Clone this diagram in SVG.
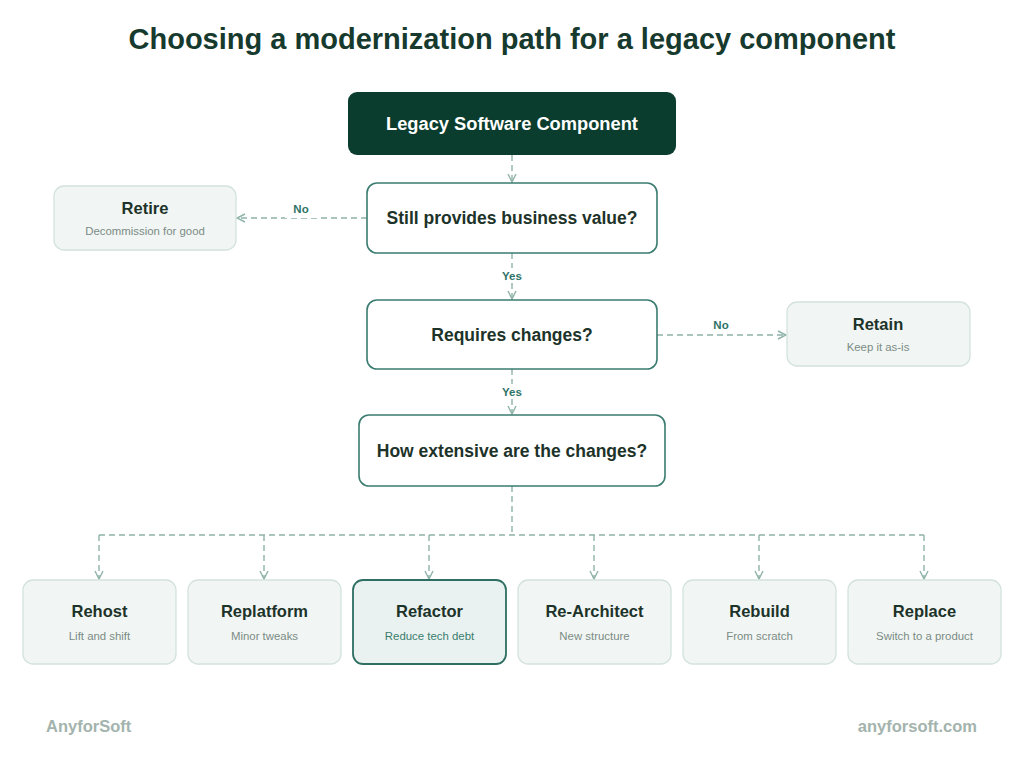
<svg xmlns="http://www.w3.org/2000/svg" width="1024" height="764" viewBox="0 0 1024 764">
<style>
text{font-family:"Liberation Sans",Arial,sans-serif}
.title{font-size:29px;font-weight:bold;fill:#173a2e}
.q{fill:#ffffff;stroke:#3b7c70;stroke-width:1.6}
.qt{font-size:17.5px;font-weight:bold;fill:#1d3329;text-anchor:middle}
.leaf{fill:#f1f6f4;stroke:#d3e2dc;stroke-width:1.3}
.lt{font-size:16.5px;font-weight:bold;fill:#1d3329;text-anchor:middle}
.ls{font-size:11.4px;fill:#7b8b85;text-anchor:middle}
.edge{fill:none;stroke:#8fb3a9;stroke-width:1.4;stroke-dasharray:6 4}
.lbl{font-size:11.5px;font-weight:bold;fill:#2f7466;text-anchor:middle}
.foot{font-size:16.5px;font-weight:bold;fill:#a3b3ad}
</style>
<defs>
<marker id="arr" viewBox="0 0 10 10" refX="9" refY="5" markerWidth="10" markerHeight="10" markerUnits="userSpaceOnUse" orient="auto">
<path d="M1,1 L9,5 L1,9" fill="none" stroke="#8fb3a9" stroke-width="1.4"/>
</marker>
</defs>
<rect width="1024" height="764" fill="#ffffff"/>
<text class="title" x="512" y="49" text-anchor="middle">Choosing a modernization path for a legacy component</text>

<g id="connectors">
<path class="edge" d="M512,155 V182" marker-end="url(#arr)"/>
<path class="edge" d="M367,218 H237" marker-end="url(#arr)"/>
<path class="edge" d="M512,253 V299" marker-end="url(#arr)"/>
<path class="edge" d="M657,335 H786" marker-end="url(#arr)"/>
<path class="edge" d="M512,369 V414" marker-end="url(#arr)"/>
<path class="edge" d="M512,486 V535"/>
<path class="edge" d="M99,535 H924"/>
<path class="edge" d="M99,535 V579" marker-end="url(#arr)"/>
<path class="edge" d="M264,535 V579" marker-end="url(#arr)"/>
<path class="edge" d="M429,535 V579" marker-end="url(#arr)"/>
<path class="edge" d="M594,535 V579" marker-end="url(#arr)"/>
<path class="edge" d="M759,535 V579" marker-end="url(#arr)"/>
<path class="edge" d="M924,535 V579" marker-end="url(#arr)"/>
<rect x="285" y="202" width="32" height="16" fill="#ffffff"/>
<text class="lbl" x="301" y="213">No</text>
<rect x="496" y="268" width="32" height="15" fill="#ffffff"/>
<text class="lbl" x="512" y="280">Yes</text>
<rect x="705" y="318" width="32" height="16" fill="#ffffff"/>
<text class="lbl" x="721" y="329">No</text>
<rect x="496" y="384" width="32" height="15" fill="#ffffff"/>
<text class="lbl" x="512" y="396">Yes</text>
</g>

<g id="legacy">
<rect x="348" y="92" width="328" height="63" rx="9" fill="#0b3d2e"/>
<text x="512" y="130" font-size="18.3" font-weight="bold" fill="#ffffff" text-anchor="middle">Legacy Software Component</text>
</g>
<g id="q-value">
<rect class="q" x="367" y="183" width="290" height="70" rx="10"/>
<text class="qt" x="512" y="224">Still provides business value?</text>
</g>
<g id="retire">
<rect class="leaf" x="54" y="186" width="182" height="64" rx="10"/>
<text class="lt" x="145" y="214">Retire</text>
<text class="ls" x="145" y="235">Decommission for good</text>
</g>
<g id="q-changes">
<rect class="q" x="367" y="300" width="290" height="69" rx="10"/>
<text class="qt" x="512" y="341">Requires changes?</text>
</g>
<g id="retain">
<rect class="leaf" x="787" y="302" width="183" height="64" rx="10"/>
<text class="lt" x="878" y="330">Retain</text>
<text class="ls" x="878" y="351">Keep it as-is</text>
</g>
<g id="q-extent">
<rect class="q" x="359" y="415" width="306" height="71" rx="10"/>
<text class="qt" x="512" y="457">How extensive are the changes?</text>
</g>

<g id="rehost">
<rect class="leaf" x="23" y="580" width="153" height="84" rx="10"/>
<text class="lt" x="99.5" y="617">Rehost</text>
<text class="ls" x="99.5" y="640">Lift and shift</text>
</g>
<g id="replatform">
<rect class="leaf" x="188" y="580" width="153" height="84" rx="10"/>
<text class="lt" x="264.5" y="617">Replatform</text>
<text class="ls" x="264.5" y="640">Minor tweaks</text>
</g>
<g id="refactor">
<rect x="353" y="580" width="153" height="84" rx="10" fill="#e9f2f0" stroke="#2f6f63" stroke-width="1.8"/>
<text class="lt" x="429.5" y="617">Refactor</text>
<text class="ls" x="429.5" y="640" style="fill:#3a7d6f">Reduce tech debt</text>
</g>
<g id="rearchitect">
<rect class="leaf" x="518" y="580" width="153" height="84" rx="10"/>
<text class="lt" x="594.5" y="617">Re-Architect</text>
<text class="ls" x="594.5" y="640">New structure</text>
</g>
<g id="rebuild">
<rect class="leaf" x="683" y="580" width="153" height="84" rx="10"/>
<text class="lt" x="759.5" y="617">Rebuild</text>
<text class="ls" x="759.5" y="640">From scratch</text>
</g>
<g id="replace">
<rect class="leaf" x="848" y="580" width="153" height="84" rx="10"/>
<text class="lt" x="924.5" y="617">Replace</text>
<text class="ls" x="924.5" y="640">Switch to a product</text>
</g>

<text class="foot" x="46" y="732">AnyforSoft</text>
<text class="foot" x="977" y="732" text-anchor="end">anyforsoft.com</text>
</svg>
